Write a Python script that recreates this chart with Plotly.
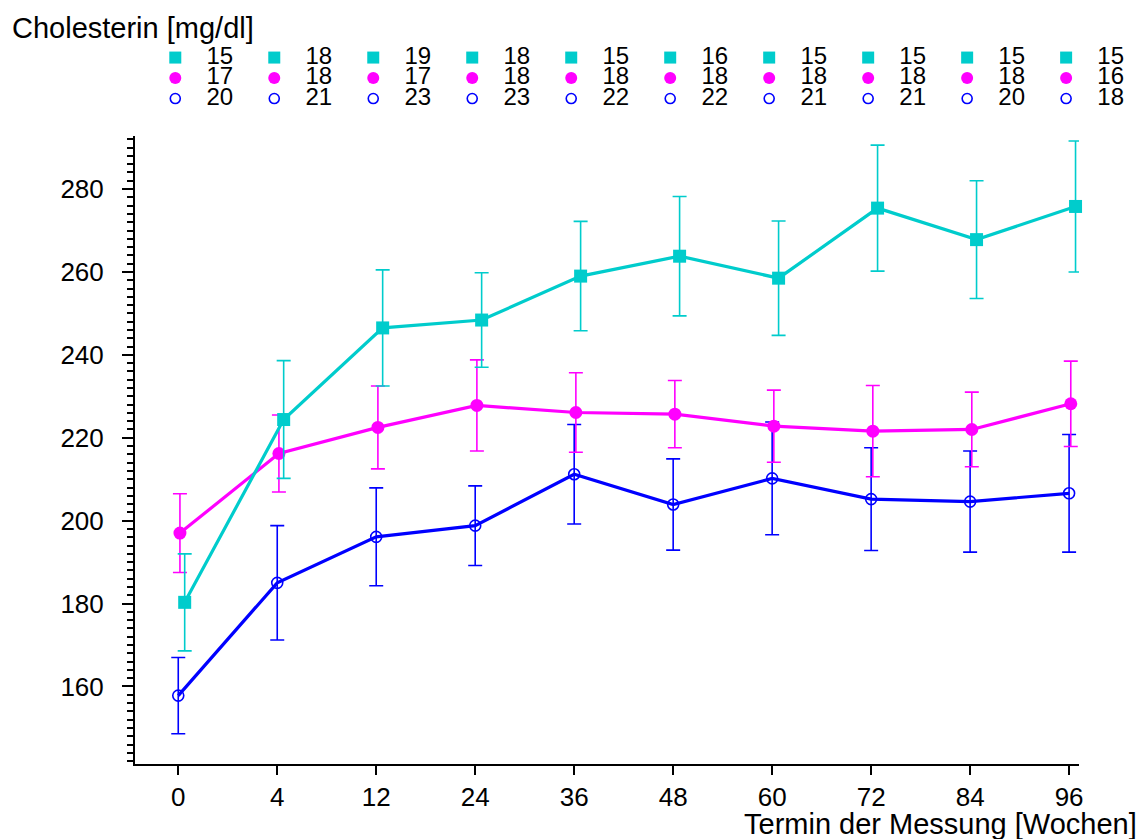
import plotly.graph_objects as go

# Measurement dates (weeks) and group statistics for serum cholesterol
weeks = ["0", "4", "12", "24", "36", "48", "60", "72", "84", "96"]

mean_cyan = [180.3, 224.4, 246.5, 248.4, 259.0, 263.8, 258.5, 275.4, 267.8, 275.8]
err_cyan = [11.7, 14.2, 14.0, 11.4, 13.2, 14.4, 13.8, 15.2, 14.2, 15.8]

mean_magenta = [197.0, 216.2, 222.5, 227.8, 226.1, 225.7, 222.8, 221.6, 222.0, 228.2]
err_magenta = [9.5, 9.3, 10.0, 11.0, 9.6, 8.1, 8.7, 11.0, 9.0, 10.3]

mean_blue = [157.8, 185.0, 196.1, 198.8, 211.2, 203.9, 210.2, 205.2, 204.6, 206.6]
err_blue = [9.2, 13.8, 11.8, 9.6, 12.0, 11.0, 13.6, 12.4, 12.2, 14.2]

# Number of patients per group and date
n_cyan = [15, 18, 19, 18, 15, 16, 15, 15, 15, 15]
n_magenta = [17, 18, 17, 18, 18, 18, 18, 18, 18, 16]
n_blue = [20, 21, 23, 23, 22, 22, 21, 21, 20, 18]

CYAN = "#00CCCC"
MAGENTA = "#FF00FF"
BLUE = "#0000FF"
FONT = "Liberation Sans, Arial, sans-serif"

idx = list(range(len(weeks)))

# Plot area geometry: the main x axis uses part of the width, the count
# table above it spans the full width on its own x axis with the same scale.
X_MIN, X_MAX = -0.437, 9.1
MAIN_FRAC = 944 / 992
X2_MAX = X_MIN + (X_MAX - X_MIN) / MAIN_FRAC

fig = go.Figure()

series = [
    (mean_blue, err_blue, BLUE, 0.0,
     dict(symbol="circle-open", size=11, color=BLUE, line=dict(width=1.6, color=BLUE))),
    (mean_magenta, err_magenta, MAGENTA, 0.017,
     dict(symbol="circle", size=13, color=MAGENTA)),
    (mean_cyan, err_cyan, CYAN, 0.065,
     dict(symbol="square", size=13, color=CYAN)),
]

for mean, err, color, shift, marker in series:
    fig.add_trace(go.Scatter(
        x=[i + shift for i in idx], y=mean,
        mode="lines+markers",
        line=dict(color=color, width=3.2),
        marker=marker,
        error_y=dict(type="data", array=err, visible=True,
                     color=color, thickness=1.6, width=7),
        cliponaxis=False, showlegend=False, hoverinfo="skip",
    ))

# Patient counts above the plot: one row per group
rows = [(n_cyan, dict(symbol="square", size=12, color=CYAN)),
        (n_magenta, dict(symbol="circle", size=12, color=MAGENTA)),
        (n_blue, dict(symbol="circle-open", size=10, color=BLUE,
                      line=dict(width=1.6, color=BLUE)))]
for r, (counts, marker) in enumerate(rows):
    fig.add_trace(go.Scatter(
        x=[i - 0.03 for i in idx], y=[r] * len(idx),
        mode="markers", marker=marker, xaxis="x2", yaxis="y2",
        cliponaxis=False, showlegend=False, hoverinfo="skip",
    ))
    fig.add_trace(go.Scatter(
        x=[i + 0.42 for i in idx], y=[r] * len(idx),
        mode="text", text=[str(c) for c in counts],
        textfont=dict(family=FONT, size=24, color="black"),
        textposition="middle center", xaxis="x2", yaxis="y2",
        cliponaxis=False, showlegend=False, hoverinfo="skip",
    ))

fig.update_layout(
    width=1147, height=839,
    margin=dict(l=135, r=20, t=10, b=75),
    paper_bgcolor="white", plot_bgcolor="white",
    font=dict(family=FONT, size=24, color="black"),
    xaxis=dict(
        domain=[0, MAIN_FRAC],
        range=[X_MIN, X_MAX], tickmode="array", tickvals=idx, ticktext=weeks,
        showgrid=False, zeroline=False, showline=True, linecolor="black",
        linewidth=2, ticks="outside", ticklen=9, tickwidth=2, tickcolor="black",
        tickfont=dict(family=FONT, size=26, color="black"), anchor="y",
    ),
    yaxis=dict(
        domain=[0, 0.8329], range=[141.3, 292.8],
        tickvals=[160, 180, 200, 220, 240, 260, 280],
        showgrid=False, zeroline=False, showline=True, linecolor="black",
        linewidth=2, ticks="outside", ticklen=11, tickwidth=2, tickcolor="black",
        tickfont=dict(family=FONT, size=26, color="black"),
        ticklabelstandoff=13,
        minor=dict(dtick=2, tick0=0, ticks="outside", ticklen=6,
                   tickwidth=1.5, tickcolor="black", showgrid=False),
        anchor="x",
    ),
    xaxis2=dict(domain=[0, 1], range=[X_MIN, X2_MAX], visible=False,
                anchor="y2", showgrid=False, zeroline=False),
    yaxis2=dict(domain=[0.869, 0.9505], range=[2.5, -0.5], visible=False,
                anchor="x2", showgrid=False, zeroline=False),
    annotations=[
        dict(text="Cholesterin [mg/dl]", xref="paper", yref="paper",
             x=-0.126, y=0.976, xanchor="left", yanchor="middle",
             showarrow=False, font=dict(family=FONT, size=29, color="black")),
        dict(text="Termin der Messung [Wochen]", xref="paper", yref="paper",
             x=1.0121, y=-0.0796, xanchor="right", yanchor="middle",
             showarrow=False, font=dict(family=FONT, size=29, color="black")),
    ],
)

fig.write_html("out.html")
